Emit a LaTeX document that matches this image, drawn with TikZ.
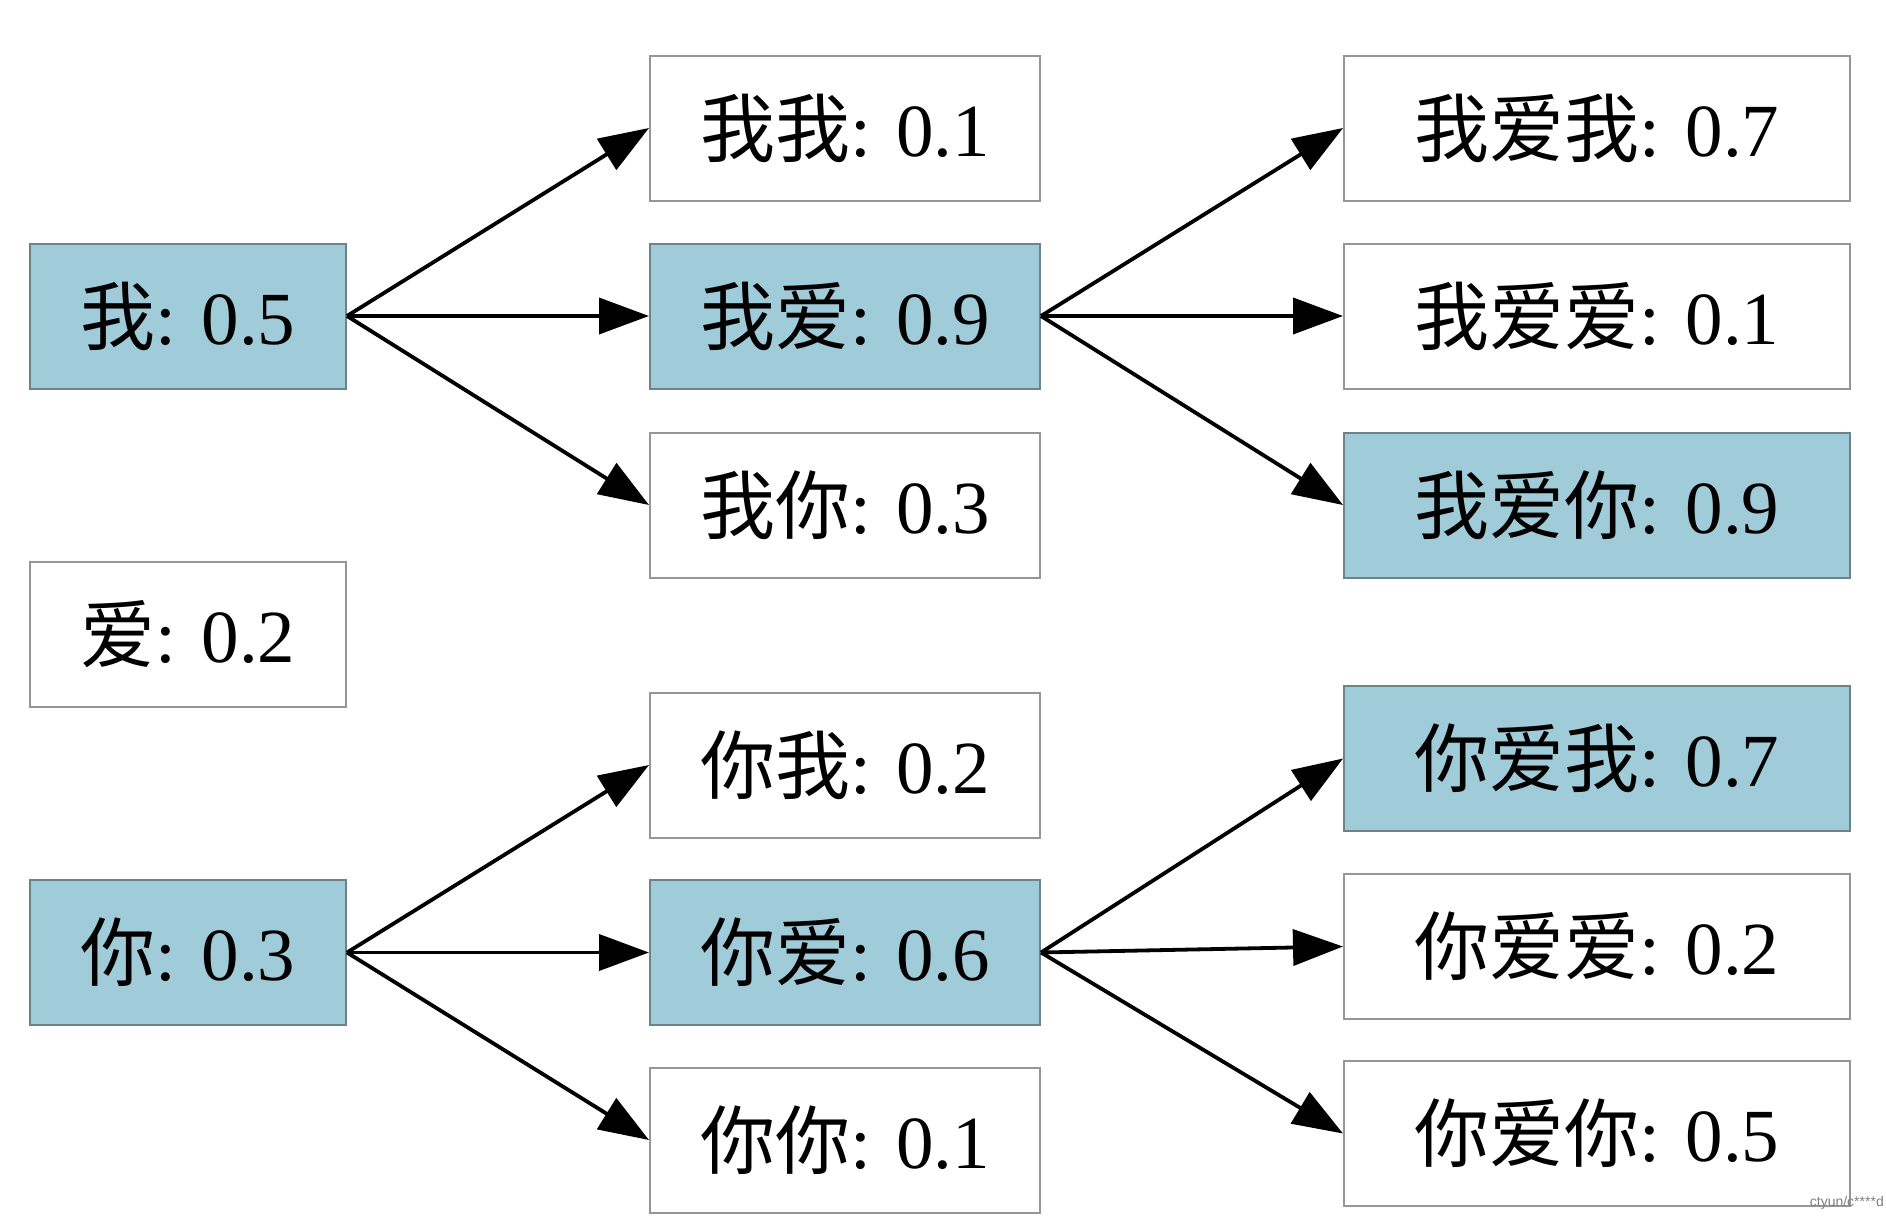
\documentclass[tikz,border=0pt]{standalone}
\usepackage{fontspec}
\setmainfont{Liberation Serif}
\newfontfamily\cjk{Noto Sans CJK SC}
\newfontfamily\wmfont{Liberation Sans}
\usetikzlibrary{arrows.meta}
\definecolor{hlblue}{RGB}{160,203,216}
\definecolor{boxline}{RGB}{150,150,150}
\definecolor{hlline}{RGB}{110,130,138}
\begin{document}
\begin{tikzpicture}[x=1pt,y=-1pt,
  box/.style={draw=boxline, line width=2pt, fill=white, inner sep=0pt,
    minimum height=145pt, font=\fontsize{75}{80}\selectfont},
  colone/.style={box, minimum width=316pt},
  coltwo/.style={box, minimum width=390pt},
  colthree/.style={box, minimum width=506pt},
  hl/.style={fill=hlblue, draw=hlline},
  arr/.style={line width=3.8pt, -{Triangle[length=50pt,width=36pt]}}]
\fill[white] (0,0) rectangle (1886,1218);
\useasboundingbox (0,0) rectangle (1886,1218);
% column 1
\node[colone,hl] (w)  at (188,316)   {{\cjk 我}: 0.5};
\node[colone]    (ai) at (188,634.5) {{\cjk 爱}: 0.2};
\node[colone,hl] (n)  at (188,952.5) {{\cjk 你}: 0.3};
% column 2
\node[coltwo]    (ww) at (845,128)   {{\cjk 我我}: 0.1};
\node[coltwo,hl] (wa) at (845,316)   {{\cjk 我爱}: 0.9};
\node[coltwo]    (wn) at (845,505)   {{\cjk 我你}: 0.3};
\node[coltwo]    (nw) at (845,765)   {{\cjk 你我}: 0.2};
\node[coltwo,hl] (na) at (845,952.5) {{\cjk 你爱}: 0.6};
\node[coltwo]    (nn) at (845,1140)  {{\cjk 你你}: 0.1};
% column 3
\node[colthree]    (waw) at (1597,128)    {{\cjk 我爱我}: 0.7};
\node[colthree]    (waa) at (1597,316)    {{\cjk 我爱爱}: 0.1};
\node[colthree,hl] (wan) at (1597,505)    {{\cjk 我爱你}: 0.9};
\node[colthree,hl] (naw) at (1597,758.5)  {{\cjk 你爱我}: 0.7};
\node[colthree]    (naa) at (1597,946.5)  {{\cjk 你爱爱}: 0.2};
\node[colthree]    (nan) at (1597,1133.5) {{\cjk 你爱你}: 0.5};
% arrows
\foreach \s/\t in {w/ww, w/wa, w/wn, n/nw, n/na, n/nn, wa/waw, wa/waa, wa/wan, na/naw, na/naa, na/nan}
  \draw[arr] (\s.east) -- (\t.west);
% watermark
\node[font=\wmfont\fontsize{14}{14}\selectfont, text=gray, anchor=east, inner sep=0pt] (wm) at (1884,1203) {ctyun/c****d};
\end{tikzpicture}
\end{document}
